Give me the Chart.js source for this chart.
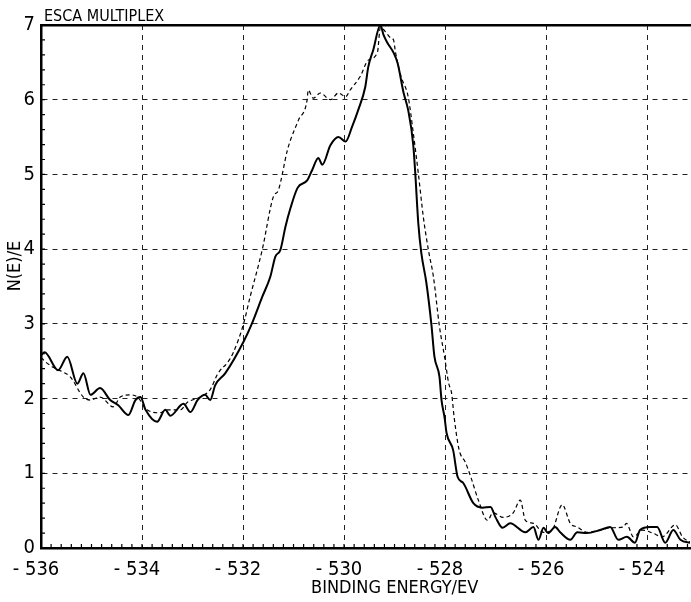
<!DOCTYPE html>
<html>
<head>
<meta charset="utf-8">
<script src="https://cdn.jsdelivr.net/npm/chart.js@4"></script>
<style>
  html, body { margin: 0; padding: 0; background: #fff; }
  canvas { display: block; }
</style>
</head>
<body>
<canvas id="esca" width="691" height="602"></canvas>
<script>
// values
const solidEnergy = [-536.0, -535.93, -535.66, -535.48, -535.28, -535.16, -535.02, -534.83, -534.63, -534.47,
  -534.27, -534.13, -534.03, -533.93, -533.70, -533.54, -533.44, -533.18, -533.04, -532.90,
  -532.75, -532.65, -532.55, -532.35, -531.99, -531.82, -531.62, -531.46, -531.36, -531.26,
  -531.16, -531.06, -530.92, -530.73, -530.63, -530.51, -530.43, -530.27, -530.11, -529.97,
  -529.84, -529.72, -529.58, -529.52, -529.42, -529.28, -529.22, -529.14, -529.02, -528.94,
  -528.82, -528.73, -528.63, -528.59, -528.53, -528.47, -528.37, -528.27, -528.21, -528.11,
  -528.07, -528.01, -527.97, -527.84, -527.75, -527.64, -527.44, -527.26, -527.10, -527.00,
  -526.86, -526.71, -526.41, -526.25, -526.15, -526.05, -525.96, -525.82, -525.72, -525.52,
  -525.38, -525.19, -524.93, -524.73, -524.57, -524.40, -524.24, -524.14, -523.94, -523.80,
  -523.64, -523.48, -523.34, -523.14];
const solidCounts = [2.58, 2.62, 2.38, 2.56, 2.20, 2.34, 2.05, 2.14, 1.98, 1.91,
  1.78, 1.98, 2.02, 1.85, 1.69, 1.85, 1.77, 1.93, 1.82, 1.98,
  2.05, 1.98, 2.18, 2.34, 2.76, 3.01, 3.36, 3.63, 3.90, 3.99,
  4.30, 4.55, 4.82, 4.92, 5.06, 5.22, 5.13, 5.39, 5.50, 5.44,
  5.64, 5.86, 6.17, 6.44, 6.67, 7.00, 6.87, 6.76, 6.63, 6.49,
  6.09, 5.86, 5.40, 5.02, 4.35, 3.95, 3.55, 2.99, 2.56, 2.29,
  1.98, 1.75, 1.54, 1.31, 0.95, 0.87, 0.60, 0.54, 0.55, 0.41,
  0.27, 0.33, 0.21, 0.28, 0.11, 0.27, 0.20, 0.28, 0.21, 0.11,
  0.21, 0.20, 0.24, 0.28, 0.11, 0.15, 0.07, 0.24, 0.28, 0.28,
  0.07, 0.24, 0.11, 0.07];

const dashedEnergy = [-536.0, -535.91, -535.76, -535.58, -535.42, -535.16, -535.02, -534.83, -534.57, -534.43,
  -534.23, -534.09, -533.90, -533.64, -533.50, -533.24, -533.10, -532.85, -532.65, -532.51,
  -532.45, -532.31, -532.19, -531.99, -531.86, -531.62, -531.40, -531.30, -531.12, -531.06,
  -530.90, -530.73, -530.71, -530.61, -530.47, -530.27, -530.11, -529.97, -529.88, -529.68,
  -529.52, -529.34, -529.28, -529.18, -529.08, -529.02, -528.98, -528.87, -528.73, -528.63,
  -528.53, -528.43, -528.33, -528.23, -528.11, -528.01, -527.93, -527.87, -527.82, -527.72,
  -527.60, -527.49, -527.34, -527.16, -527.05, -526.85, -526.65, -526.51, -526.41, -526.25,
  -526.05, -525.88, -525.68, -525.52, -525.38, -525.19, -524.93, -524.73, -524.47, -524.41,
  -524.27, -524.09, -523.89, -523.70, -523.44, -523.30, -523.12];
const dashedCounts = [2.55, 2.49, 2.42, 2.36, 2.29, 2.02, 1.98, 2.02, 1.89, 2.02,
  2.05, 2.02, 1.85, 1.81, 1.85, 1.85, 1.95, 2.02, 2.12, 2.32,
  2.38, 2.48, 2.62, 3.00, 3.36, 3.99, 4.70, 4.79, 5.33, 5.46,
  5.73, 6.00, 6.13, 6.02, 6.09, 6.00, 6.09, 6.04, 6.13, 6.31,
  6.53, 6.63, 6.97, 6.91, 6.83, 6.80, 6.63, 6.31, 6.04, 5.56,
  5.02, 4.43, 3.99, 3.63, 2.96, 2.56, 2.21, 2.07, 1.75, 1.31,
  1.15, 0.95, 0.64, 0.37, 0.47, 0.41, 0.47, 0.64, 0.37, 0.33,
  0.21, 0.24, 0.58, 0.33, 0.28, 0.21, 0.24, 0.27, 0.28, 0.33,
  0.15, 0.24, 0.20, 0.15, 0.31, 0.15, 0.07];

const xTicks = [-536, -534, -532, -530, -528, -526, -524];
const yTicks = [0, 1, 2, 3, 4, 5, 6, 7];
const xMin = -536, xMax = -523.15;

const FONT = "'Liberation Sans Narrow', 'DejaVu Sans Condensed', sans-serif";

const toPoints = (xs, ys) => xs.map((x, i) => ({ x: x, y: ys[i] }));

// minor ticks inside the frame + plot labels
const overlay = {
  id: 'overlay',
  afterDraw(chart) {
    const { ctx, chartArea: a, scales: { x, y } } = chart;
    ctx.save();
    ctx.strokeStyle = '#000';
    ctx.lineWidth = 1.2;
    ctx.beginPath();
    for (let i = 1; xMin + i * 0.2 < xMax; i++) {
      const px = x.getPixelForValue(xMin + i * 0.2);
      ctx.moveTo(px, a.bottom);
      ctx.lineTo(px, a.bottom - 4);
    }
    for (let i = 1; i < 35; i++) {
      const py = y.getPixelForValue(i * 0.2);
      ctx.moveTo(a.left, py);
      ctx.lineTo(a.left + 4, py);
    }
    ctx.stroke();

    ctx.fillStyle = '#000';
    ctx.font = '16px ' + FONT;
    ctx.textAlign = 'left';
    ctx.textBaseline = 'alphabetic';
    ctx.fillText('ESCA MULTIPLEX', a.left + 3, a.top - 4);

    ctx.font = '18px ' + FONT;
    ctx.textAlign = 'center';
    ctx.fillText('BINDING ENERGY/EV', a.left + a.width * 0.545, 593);

    ctx.translate(20, a.top + 241);
    ctx.rotate(-Math.PI / 2);
    ctx.fillText('N(E)/E', 0, 0);
    ctx.restore();
  }
};

new Chart(document.getElementById('esca'), {
  type: 'line',
  data: {
    datasets: [
      {
        label: 'solid',
        data: toPoints(solidEnergy, solidCounts),
        borderColor: '#000',
        borderWidth: 2,
        pointRadius: 0,
        cubicInterpolationMode: 'monotone'
      },
      {
        label: 'dashed',
        data: toPoints(dashedEnergy, dashedCounts),
        borderColor: '#000',
        borderWidth: 1.2,
        borderDash: [4, 3],
        pointRadius: 0,
        cubicInterpolationMode: 'monotone'
      }
    ]
  },
  options: {
    responsive: false,
    animation: false,
    layout: { padding: { top: 25, right: 1, left: 0, bottom: 0 } },
    plugins: {
      legend: { display: false },
      tooltip: { enabled: false }
    },
    scales: {
      x: {
        type: 'linear',
        min: xMin,
        max: xMax,
        afterBuildTicks: (s) => { s.ticks = xTicks.map(v => ({ value: v })); },
        afterFit: (s) => { s.height = 54; },
        grid: { color: '#222', lineWidth: 1, drawTicks: false },
        border: { display: true, color: '#000', width: 2.5, dash: [5, 5] },
        ticks: {
          color: '#000',
          padding: 10,
          labelOffset: -5,
          maxRotation: 0,
          font: { family: FONT, size: 20 },
          callback: (v) => '- ' + Math.abs(v)
        }
      },
      xTop: {
        type: 'linear',
        position: 'top',
        min: xMin,
        max: xMax,
        afterFit: (s) => { s.height = 0; },
        grid: { display: false, drawTicks: false },
        ticks: { display: false },
        border: { display: true, color: '#000', width: 2.5 }
      },
      y: {
        min: 0,
        max: 7,
        afterBuildTicks: (s) => { s.ticks = yTicks.map(v => ({ value: v })); },
        afterFit: (s) => { s.width = 41; },
        grid: { color: '#222', lineWidth: 1, drawTicks: false },
        border: { display: true, color: '#000', width: 2.5, dash: [5, 5] },
        ticks: {
          color: '#000',
          padding: 6,
          font: { family: FONT, size: 20 }
        }
      }
    }
  },
  plugins: [overlay]
});
</script>
</body>
</html>
